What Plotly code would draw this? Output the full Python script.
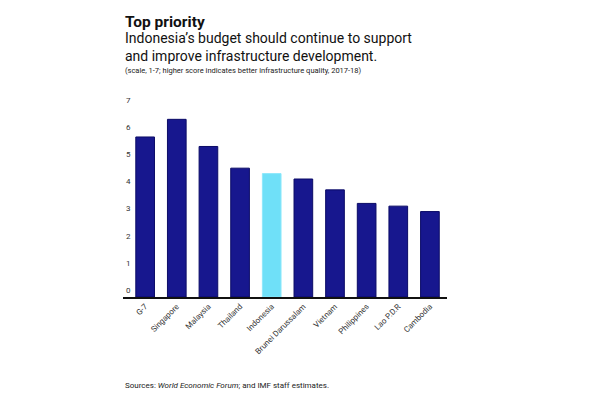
import plotly.graph_objects as go

categories = ["G-7", "Singapore", "Malaysia", "Thailand", "Indonesia",
              "Brunei Darussalam", "Vietnam", "Philippines", "Lao P.D.R", "Cambodia"]
scores = [5.9, 6.55, 5.55, 4.75, 4.55, 4.35, 3.95, 3.45, 3.35, 3.15]
highlight = "Indonesia"
y_ticks = [0, 1, 2, 3, 4, 5, 6, 7]

NAVY = "#17178e"
CYAN = "#6fe0f8"
colors = [CYAN if c == highlight else NAVY for c in categories]
lines = ["#8fe8fb" if c == highlight else "#0b0b66" for c in categories]

fig = go.Figure(go.Bar(
    x=categories, y=scores,
    marker=dict(color=colors, line=dict(color=lines, width=1)),
    hoverinfo="x+y",
))

FONT = "Roboto"
fig.update_layout(
    width=600, height=400,
    margin=dict(l=115, r=161, t=91, b=111, autoexpand=False),
    paper_bgcolor="white", plot_bgcolor="white",
    bargap=0.41,
    showlegend=False,
    font=dict(family=FONT, color="#222"),
)
fig.update_xaxes(
    range=[-0.7, 9.54],
    tickangle=-45,
    tickfont=dict(size=8, color="#333"),
    showline=True, linecolor="#111", linewidth=1.5,
    ticks="", showgrid=False, zeroline=False,
    automargin=False,
    fixedrange=True,
)
fig.update_yaxes(
    range=[0, 7.3],
    tickvals=y_ticks,
    ticktext=[str(v) for v in y_ticks],
    ticklabelposition="inside",
    ticklabeloverflow="allow",
    ticklabelshift=-7,
    tickfont=dict(size=8, color="#333"),
    showgrid=False, zeroline=False, showline=False, ticks="",
    automargin=False,
    fixedrange=True,
)

fig.add_annotation(text="<b>Top priority</b>", xref="paper", yref="paper",
                   x=0, y=1, xanchor="left", yanchor="bottom", showarrow=False,
                   xshift=0, yshift=66, font=dict(family=FONT, size=15.5, color="#111"))
fig.add_annotation(text="Indonesia’s budget should continue to support<br>and improve infrastructure development.",
                   xref="paper", yref="paper", x=0, y=1, xanchor="left", yanchor="bottom",
                   align="left", showarrow=False, yshift=33,
                   font=dict(family=FONT, size=14, color="#111"))
fig.add_annotation(text="(scale, 1-7; higher score indicates better infrastructure quality, 2017-18)",
                   xref="paper", yref="paper", x=0, y=1, xanchor="left", yanchor="bottom",
                   showarrow=False, yshift=22,
                   font=dict(family=FONT, size=7.5, color="#222"))
fig.add_annotation(text="Sources: <i>World Economic Forum</i>; and IMF staff estimates.",
                   xref="paper", yref="paper", x=0, y=0, xanchor="left", yanchor="middle",
                   showarrow=False, yshift=-88,
                   font=dict(family=FONT, size=8, color="#222"))

fig.write_html("out.html")
